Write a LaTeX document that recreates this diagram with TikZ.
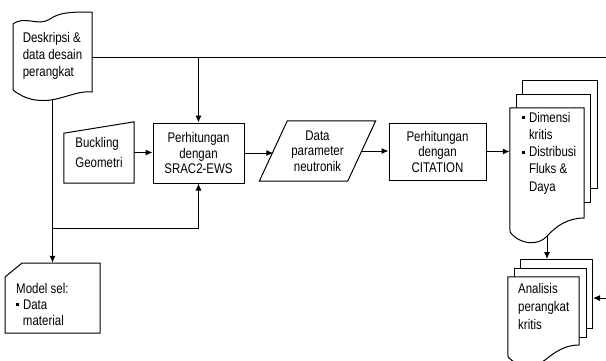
\documentclass[tikz,border=0pt]{standalone}
\usepackage{fontspec}
\setmainfont{Liberation Sans}[FakeStretch=0.82]
\usetikzlibrary{arrows.meta}
\newcommand{\sqbul}{\raisebox{3pt}{\rule{3.2pt}{3.2pt}}\hspace{3.6pt}}
\newcommand{\sqind}{\hspace{6.8pt}}

\begin{document}
\begin{tikzpicture}[x=1pt, y=-1pt,
	txt/.style={font=\fontsize{14}{#1}\selectfont, inner sep=0pt, align=left},
	txt/.default=15.5,
	frame/.style={inner sep=0pt},
	outline/.style={line width=1pt, line join=miter},
	link/.style={line width=1pt, -{Latex[length=7pt,width=6pt]}}]
	\useasboundingbox (0,0) rectangle (606,360);
	\clip (0,0) rectangle (606,360);

	\node[txt=17, minimum width=79, minimum height=88]
		(desc) at (52.5, 56) {Deskripsi \&\\data desain\\perangkat};
	\draw[outline] (13,24) .. controls (25,15) and (38,27) .. (50,19)
		.. controls (60,12) and (72,12) .. (92,12) -- (92,92)
		.. controls (78,90) and (62,100) .. (45,100.5)
		.. controls (32,101) and (22,97) .. (13,90) -- cycle;

	\node[txt=19.5, minimum width=70, minimum height=61]
		(buck) at (99, 152.5) {Buckling\\Geometri};
	\draw[outline] (buck.south west) -- ++(0,-50) -- (buck.north east)
		-- (buck.south east) -- cycle;

	\node[txt, outline, draw, align=center, minimum width=91, minimum height=60]
		(srac) at (198.5, 153) {Perhitungan\\dengan\\SRAC2-EWS};

	\node[txt, align=center, minimum width=88, minimum height=60]
		(data) at (317.5, 151) {Data\\parameter\\neutronik};
	\draw[outline] ([xshift=-14]data.south west) -- ([xshift=14]data.north west)
		-- ([xshift=14]data.north east) -- ([xshift=-14]data.south east) -- cycle;

	\node[txt, outline, draw, align=center, minimum width=97, minimum height=57]
		(cit) at (437.5, 151.5) {Perhitungan\\dengan\\CITATION};

	\node[frame, minimum width=74, minimum height=128]
		(dim) at (547, 172) {};
	\draw[outline] (522,94) -- (522,80) -- (597,80) -- (597,188) -- (590,188);
	\draw[outline] (516,108) -- (516,94) -- (590,94) -- (590,202) -- (584,202);
	\draw[outline, fill=white] (dim.north west) -- (dim.north east) -- (584,218)
		.. controls (568,218) and (556,226) .. (dim.south)
		.. controls (538,246) and (520,245) .. (510,232) -- cycle;
	\node[txt=17.2, anchor=north west]
		(dimtxt) at (522, 112) {\sqbul Dimensi\\\sqind kritis\\\sqbul Distribusi\\\sqind Fluks \&\\\sqind Daya};

	\node[frame, minimum width=71, minimum height=86]
		(ana) at (543.5, 320) {};
	\draw[outline] (520,268) -- (520,259) -- (592,259) -- (592,328) -- (586,328);
	\draw[outline] (514,277) -- (514,268) -- (586,268) -- (586,337) -- (579,337);
	\draw[outline, fill=white] (ana.north west) -- (ana.north east) -- (579,345)
		.. controls (565,345) and (555,352) .. (545,360)
		.. controls (535,368) and (518,368) .. (508,357) -- cycle;
	\node[txt=18, anchor=north west]
		(anatxt) at (518, 283) {Analisis\\perangkat\\kritis};

	\node[frame, minimum width=95, minimum height=70]
		(model) at (52.5, 298) {};
	\draw[outline] (5,277) -- (22,263) -- (100,263) -- (100,333) -- (5,333) -- cycle;
	\node[txt=16, anchor=north west]
		(modeltxt) at (16, 283) {Model sel:\\\sqbul Data\\\sqind material};

	\coordinate (top-end) at (606, 57);
	\coordinate (split) at (52.5, 228);
	\coordinate (ana-in) at (547, 259);
	\coordinate (ana-side) at (593, 298);
	\coordinate (right-in) at (606, 298);

	\draw[outline] (desc.east |- top-end) -- (top-end);
	\draw[link]    (srac.north |- top-end) -- (srac.north);
	\draw[link]    (desc.south) -- (model.north);
	\draw[link]    (split) -| (srac.south);
	\draw[link]    (buck.east) -- (buck.east -| srac.west);
	\draw[link]    (srac.east) -- (srac.east -| data.west);
	\draw[link]    (data.east) -- (data.east -| cit.west);
	\draw[link]    (cit.east) -- (cit.east -| dim.west);
	\draw[link]    (dim.south) -- (ana-in);
	\draw[link]    (right-in) -- (ana-side);
\end{tikzpicture}
\end{document}
